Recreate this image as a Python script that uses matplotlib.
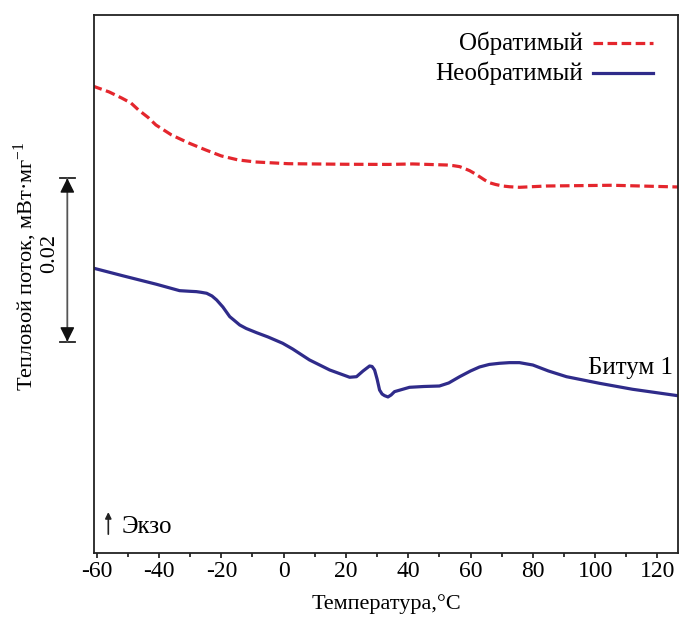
import matplotlib
matplotlib.use("Agg")
import matplotlib.pyplot as plt
import numpy as np

plt.rcParams['font.family'] = ['Liberation Serif', 'DejaVu Serif']
plt.rcParams['axes.unicode_minus'] = False
plt.rcParams['mathtext.fontset'] = 'custom'
plt.rcParams['mathtext.rm'] = 'Liberation Serif'

# Temperatures (°C) and heat flow (mW/mg, arbitrary offset)
T_rev = [-61.3, -56, -52, -49, -46.6, -43.5, -41, -36, -30.5, -25, -20, -14.6, -9, 1.5, 20, 33.6,
         41.4, 52.3, 54.5, 56.5, 58, 59.7, 61.3, 62.9, 64.5, 66, 68, 70.3, 72.5, 75.7, 84.4, 105.5, 126.6]
hf_rev = [0.05679, 0.05606, 0.05532, 0.05471, 0.05386, 0.05294, 0.05202, 0.05080, 0.04982, 0.04896,
          0.04823, 0.04774, 0.04749, 0.04728, 0.04721, 0.04719, 0.04725, 0.04712, 0.04704, 0.04692,
          0.04670, 0.04643, 0.04608, 0.04569, 0.04529, 0.04496, 0.04474, 0.04455, 0.04446, 0.04439,
          0.04455, 0.04464, 0.04443]

T_irr = [-61.3, -51.7, -40.8, -33.4, -30, -28, -26.5, -24.7, -23, -21.5, -19.5, -17.3, -16, -14.1,
         -12, -8.7, -5, -0.3, 2.9, 8.3, 14.8, 21.2, 23.4, 25.5, 27.6, 28.4, 29.2, 30.0, 30.8, 31.6,
         32.4, 33.5, 34.5, 35.6, 40.4, 45, 50, 53, 56.5, 60, 62.9, 66, 69.3, 72.5, 75.7, 80, 85, 90.8,
         101.4, 112, 126.6]
hf_irr = [0.03452, 0.03357, 0.03252, 0.03174, 0.03166, 0.03162, 0.03154, 0.03142, 0.03109, 0.03060,
          0.02974, 0.02856, 0.02815, 0.02754, 0.02711, 0.02660, 0.02607, 0.02530, 0.02460, 0.02326,
          0.02203, 0.02114, 0.02121, 0.02191, 0.02252, 0.02246, 0.02203, 0.02093, 0.01958, 0.01909,
          0.01889, 0.01873, 0.01897, 0.01938, 0.01991, 0.02001, 0.02007, 0.02044, 0.02121, 0.02191,
          0.02240, 0.02271, 0.02285, 0.02293, 0.02293, 0.02264, 0.02191, 0.02121, 0.02040, 0.01967,
          0.01888]

xticks = [-60, -40, -20, 0, 20, 40, 60, 80, 100, 120]
scale_bar = 0.02

fig = plt.figure(figsize=(6.8, 6.17), dpi=100)
ax = fig.add_axes([94/680, 64/617, 584/680, 538/617])

red = '#e4262d'
blue = '#2f2b8a'
dash = (0, (3.0, 1.4))
ax.plot(T_rev, hf_rev, color=red, lw=2.3, ls=dash)
ax.plot(T_irr, hf_irr, color=blue, lw=2.3, solid_joinstyle='round')

ax.set_xlim(-60.87, 126.6)
ax.set_ylim(-0.00037, 0.06548)
ax.set_xticks(xticks)
ax.set_xticks(np.arange(-50, 130, 20), minor=True)
ax.set_yticks([])
ax.tick_params(axis='x', which='major', direction='out', length=3.5, width=1.1, labelsize=17, pad=2)
ax.tick_params(axis='x', which='minor', direction='out', length=3, width=1.1)
for s in ax.spines.values():
    s.set_linewidth(1.3)
    s.set_color('#222222')

ax.set_xlabel('Температура,°C', fontsize=16, labelpad=9)
fig.text(25/680, 1 - 266/617, r'Тепловой поток, мВт·мг$^{\mathrm{-1}}$', rotation=90, fontsize=16,
         ha='center', va='center')

# legend (manual)
ax.text(0.837, 0.948, 'Обратимый', transform=ax.transAxes, ha='right', va='center', fontsize=18)
ax.text(0.837, 0.892, 'Необратимый', transform=ax.transAxes, ha='right', va='center', fontsize=18)
ax.plot([0.854, 0.957], [0.948, 0.948], transform=ax.transAxes, color=red, lw=2.3, ls=dash)
ax.plot([0.854, 0.957], [0.892, 0.892], transform=ax.transAxes, color=blue, lw=2.3)

ax.text(0.991, 0.344, 'Битум 1', transform=ax.transAxes, ha='right', va='center', fontsize=18)
# Exo marker
ax.annotate('', xy=(0.0245, 0.076), xytext=(0.0245, 0.035), xycoords=ax.transAxes,
            arrowprops=dict(arrowstyle='-|>', color='#222222', lw=1.2, mutation_scale=9,
                            shrinkA=0, shrinkB=0))
ax.text(0.048, 0.048, 'Экзо', transform=ax.transAxes, ha='left', va='center', fontsize=18)

# scale bar 0.02
tr = ax.get_yaxis_transform()
y0 = 0.0255
y1 = y0 + scale_bar
ax.annotate('', xy=(-0.0457, y1), xytext=(-0.0457, y0), xycoords=tr, textcoords=tr,
            arrowprops=dict(arrowstyle='-', color='#555555', lw=1.3, shrinkA=0, shrinkB=0),
            annotation_clip=False)
for ya, yb in ((y1, y1 - 0.0016), (y0, y0 + 0.0016)):
    ax.annotate('', xy=(-0.0457, ya), xytext=(-0.0457, yb), xycoords=tr, textcoords=tr,
                arrowprops=dict(arrowstyle='-|>', color='#111111', lw=1.0, mutation_scale=22,
                                shrinkA=0, shrinkB=0), annotation_clip=False)
    ax.plot([-0.058, -0.0325], [ya, ya], transform=tr, color='#222222', lw=1.3, clip_on=False)
ax.text(-0.0753, y0 + scale_bar / 2 + 0.0008, '0.02', transform=tr, rotation=90, ha='center',
        va='center', fontsize=16)

fig.savefig('out.png', dpi=100)
